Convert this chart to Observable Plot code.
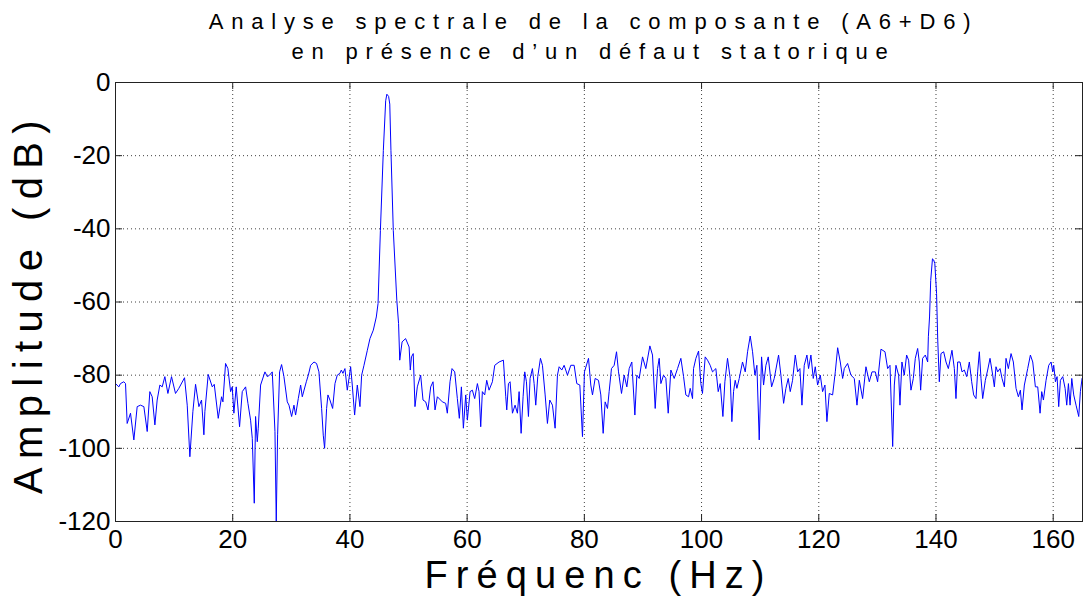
<!DOCTYPE html>
<html><head><meta charset="utf-8">
<script src="https://cdn.jsdelivr.net/npm/d3@7"></script>
<script src="https://cdn.jsdelivr.net/npm/@observablehq/plot@0.6"></script>
<style>
body{margin:0;background:#fff;}
#wrap{position:relative;width:1085px;height:596px;overflow:hidden;font-family:"Liberation Sans",Arial,Helvetica,sans-serif;color:#000;}
#chart{position:absolute;left:0;top:0;}
.title{position:absolute;left:110px;width:967px;top:7px;text-align:center;font-size:22px;line-height:30px;letter-spacing:7.8px;white-space:nowrap;}
.xlab{position:absolute;left:115px;width:967px;top:556px;text-align:center;font-size:38px;line-height:38px;letter-spacing:8.1px;white-space:nowrap;}
.ylab{position:absolute;left:28px;top:303px;transform:translate(-50%,-50%) rotate(-90deg);font-size:40px;line-height:40px;letter-spacing:8.4px;white-space:nowrap;}
</style>
</head><body>
<div id="wrap">
  <div id="chart"></div>
  <div class="title">Analyse spectrale de la composante (A6+D6)<br>en présence d’un défaut statorique</div>
  <div class="ylab">Amplitude (dB)</div>
  <div class="xlab">Fréquenc (Hz)</div>
</div>
<script>
const titleLines = ["Analyse spectrale de la composante (A6+D6)", "en présence d’un défaut statorique"];
const xLabel = "Fréquenc (Hz)";
const yLabel = "Amplitude (dB)";
const xTicks = [0, 20, 40, 60, 80, 100, 120, 140, 160];
const yTicks = [-120, -100, -80, -60, -40, -20, 0];

const freqs = [
0,0.57,0.85,1.42,1.71,1.99,2.56,3.13,3.70,4.27,4.84,5.41,5.86,6.26,6.72,7.11,7.57,7.97,8.42,8.94,
9.56,10.24,10.81,11.78,12.24,12.69,13.20,13.66,14.23,14.68,15.08,15.25,15.82,16.51,16.85,17.53,18.10,18.33,18.78,19.18,
19.64,19.92,20.20,20.60,21.17,21.63,22.20,22.60,23.05,23.34,23.68,23.90,24.19,24.36,24.76,25.50,25.90,26.29,26.75,27.21,
27.43,27.66,28.00,28.34,28.74,29.31,29.60,30.05,30.45,30.73,31.19,31.59,31.87,32.56,32.90,33.30,33.86,34.31,34.71,35.17,
35.45,35.68,36.02,36.25,36.59,37.05,37.45,37.84,38.30,38.53,38.81,39.15,39.55,39.84,40.12,40.40,40.80,41.26,41.71,42.00,
42.40,42.97,43.42,43.99,44.5,44.8,45.2,45.7,46.1,46.3,46.6,46.8,47.0,47.4,48.0,48.3,48.5,48.9,49.5,50.1,
50.3,50.5,50.8,51.1,51.50,52.07,52.47,52.93,53.32,53.78,54.18,54.52,54.92,55.77,56.34,56.62,57.08,57.42,57.88,58.33,
58.67,59.02,59.36,59.76,60.04,60.50,60.89,61.29,61.75,62.03,62.32,62.60,63.00,63.34,63.74,64.31,64.71,65.45,66.19,66.59,
66.76,67.05,67.33,67.73,68.18,68.58,68.87,69.21,69.55,69.83,70.12,70.46,70.74,71.14,71.43,71.71,72.05,72.51,72.85,73.31,
73.70,74.10,74.56,75.01,75.41,75.70,76.15,76.55,77.12,77.69,78.26,78.71,79.23,79.68,80.02,80.71,81.10,81.39,81.84,82.41,
82.81,83.21,83.55,83.95,84.23,84.63,85.09,85.49,85.83,86.34,86.80,87.25,87.65,88.10,88.62,88.96,89.36,89.93,90.49,91.18,
91.63,92.09,92.49,92.77,93.06,93.51,93.91,94.31,94.76,95.33,95.90,96.47,96.93,97.32,97.78,98.06,98.46,98.63,99.03,99.49,
99.88,100.16,100.62,101.02,101.47,101.87,102.44,102.84,103.18,103.64,103.98,104.43,104.89,105.17,105.46,105.74,106.03,106.43,106.99,107.45,
107.85,108.30,108.70,109.10,109.44,109.84,110.24,110.58,110.98,111.38,111.95,112.40,113.14,113.54,114.00,114.39,114.79,115.13,115.53,115.99,
116.39,116.78,117.13,117.52,117.98,118.26,118.66,119.06,119.40,119.80,120.26,120.65,121.05,121.39,121.79,122.36,122.82,123.22,123.67,124.07,
124.35,124.92,125.49,126.06,126.52,126.92,127.48,128.05,128.62,129.08,129.65,130.04,130.61,131.30,131.75,132.15,132.61,132.89,133.17,133.63,
133.85,134.19,134.59,134.99,135.33,135.73,136.13,136.47,136.87,137.15,137.38,137.72,138.18,138.58,138.7,138.9,139.1,139.4,139.6,139.8,
140.1,140.3,140.57,140.85,141.31,141.71,142.11,142.73,143.13,143.41,143.70,144.10,144.44,144.84,145.24,145.69,146.09,146.43,146.83,147.11,
147.40,147.68,147.97,148.42,148.82,149.22,149.68,149.96,150.24,150.53,150.93,151.27,151.67,151.95,152.35,152.81,153.20,153.66,154.06,154.40,
154.68,155.08,155.65,156.11,156.51,156.96,157.36,157.76,158.04,158.33,158.78,159.24,159.64,159.92,160.09,160.38,160.66,160.94,161.23,161.63,
162.03,162.31,162.60,162.88,163.17,163.50,163.90,164.36,164.64,164.93
];
const amps = [
-82.3,-83.2,-82.3,-81.8,-82.3,-93.2,-90.4,-97.7,-88.6,-88.2,-88.6,-95.4,-84.5,-85.9,-93.6,-86.8,-82.7,-83.2,-80.4,-85.0,
-80.4,-85.0,-83.6,-80.7,-88.2,-102.3,-90.0,-82.5,-88.6,-86.8,-96.3,-90.0,-79.8,-83.2,-82.5,-91.8,-85.9,-87.3,-76.8,-78.2,
-84.5,-83.2,-90.4,-83.2,-94.1,-84.5,-83.2,-87.7,-92.3,-97.3,-115.0,-91.3,-98.2,-94.5,-82.7,-79.1,-80.4,-80.0,-79.1,-95.4,
-120,-96.3,-79.1,-77.1,-80.4,-87.3,-88.2,-91.3,-88.2,-90.9,-86.4,-82.7,-85.9,-81.8,-80.0,-77.3,-76.4,-76.8,-79.1,-89.1,
-96.4,-100.0,-89.1,-85.4,-86.8,-89.1,-82.3,-80.0,-79.5,-78.6,-79.5,-78.2,-84.1,-80.9,-77.7,-82.7,-90.9,-82.7,-88.6,-80.0,
-77.3,-73.2,-70.0,-67.7,-64.1,-60.4,-40.4,-18.6,-5.0,-3.2,-3.8,-5.9,-18.6,-40.4,-59.5,-65.9,-75.9,-70.9,-70.0,-72.3,
-78.6,-75.0,-74.1,-88.6,-83.2,-80.0,-86.8,-87.3,-89.5,-83.2,-81.8,-89.5,-85.9,-87.3,-87.7,-90.4,-81.8,-78.2,-79.1,-86.4,
-91.8,-83.2,-94.5,-85.4,-92.3,-84.5,-84.1,-86.4,-82.3,-84.5,-94.1,-84.5,-85.4,-81.4,-84.1,-81.8,-77.3,-76.4,-75.9,-85.9,
-89.5,-82.3,-81.8,-90.4,-88.2,-90.4,-84.5,-95.9,-85.9,-79.1,-81.8,-91.3,-80.9,-78.2,-82.3,-88.2,-80.4,-75.4,-77.3,-85.4,
-93.2,-86.8,-88.2,-94.5,-80.0,-77.7,-78.6,-77.3,-80.0,-77.3,-77.3,-82.3,-82.7,-96.8,-79.1,-75.4,-82.7,-85.4,-80.9,-81.4,
-85.4,-95.9,-87.3,-89.1,-84.5,-78.2,-77.3,-73.6,-79.1,-85.0,-80.0,-83.2,-78.2,-76.4,-90.9,-80.0,-80.9,-75.0,-78.2,-72.0,
-74.5,-89.1,-78.2,-75.4,-82.3,-80.0,-80.9,-90.4,-78.6,-80.9,-78.2,-75.4,-80.4,-85.4,-85.9,-83.6,-86.4,-78.2,-75.4,-73.4,
-82.3,-85.0,-75.0,-75.9,-77.3,-79.1,-78.2,-84.5,-82.3,-91.3,-81.8,-75.4,-80.9,-92.7,-84.5,-81.4,-83.6,-80.9,-76.4,-79.1,
-73.6,-69.3,-73.6,-80.0,-77.3,-97.7,-75.0,-82.7,-77.3,-75.0,-83.2,-80.9,-74.5,-80.0,-87.7,-83.6,-80.9,-84.5,-81.4,-74.5,
-79.1,-78.2,-88.2,-77.3,-74.5,-78.2,-74.5,-80.9,-77.7,-82.7,-80.0,-84.5,-82.7,-92.7,-85.0,-85.4,-79.1,-72.5,-76.4,-80.9,
-78.2,-76.8,-80.0,-80.9,-88.2,-81.4,-86.4,-77.7,-81.8,-79.1,-79.1,-81.8,-72.9,-73.6,-78.2,-77.3,-99.5,-82.7,-77.3,-80.0,
-88.2,-76.4,-80.0,-74.5,-75.9,-84.1,-80.9,-75.4,-72.7,-76.4,-84.1,-75.4,-74.5,-76.4,-69.5,-64.1,-54.1,-48.2,-48.5,-49.5,
-57.7,-70.4,-81.8,-74.1,-73.6,-76.4,-78.2,-73.2,-78.2,-86.4,-76.4,-76.4,-79.1,-78.6,-80.4,-76.4,-81.8,-85.4,-86.4,-79.1,
-73.6,-80.9,-86.4,-81.4,-78.6,-75.4,-80.0,-83.2,-77.7,-79.1,-78.2,-80.9,-83.2,-75.4,-78.2,-74.1,-76.4,-83.6,-85.9,-84.1,
-89.5,-82.7,-78.2,-74.5,-76.4,-83.2,-83.2,-90.4,-84.5,-86.8,-81.4,-77.3,-76.4,-79.1,-77.3,-81.8,-80.4,-88.6,-81.4,-80.4,
-83.6,-88.2,-82.3,-88.2,-80.9,-85.4,-88.2,-91.3,-84.5,-80.9
];

const data = freqs.map((f, i) => ({f, a: amps[i]}));

const W = 1085, H = 596, mL = 115, mR = 3, mT = 82, mB = 75;
const pw = W - mL - mR, ph = H - mT - mB, tk = 7;
const ink = "#222";

const chart = Plot.plot({
  width: W, height: H,
  marginLeft: mL, marginRight: mR, marginTop: mT, marginBottom: mB,
  style: {fontFamily: "'Liberation Sans', Arial, Helvetica, sans-serif", background: "#fff", color: "#000", overflow: "visible"},
  x: {domain: [0, 165], label: null},
  y: {domain: [-120, 0], label: null},
  marks: [
    Plot.gridX(xTicks, {stroke: "#000", strokeOpacity: 0.75, strokeDasharray: "1,3"}),
    Plot.gridY(yTicks, {stroke: "#000", strokeOpacity: 0.75, strokeDasharray: "1,3"}),
    Plot.line(data, {x: "f", y: "a", stroke: "#0000ff", strokeWidth: 1}),
    Plot.ruleX(xTicks, {insetTop: ph - tk, stroke: ink}),
    Plot.ruleX(xTicks, {insetBottom: ph - tk, stroke: ink}),
    Plot.ruleY(yTicks, {insetRight: pw - tk, stroke: ink}),
    Plot.ruleY(yTicks, {insetLeft: pw - tk, stroke: ink}),
    Plot.frame({stroke: ink}),
    Plot.axisX(xTicks, {tickSize: 0, tickPadding: 8, fontSize: 26, tickFormat: d => String(d), label: null}),
    Plot.axisY(yTicks, {tickSize: 0, tickPadding: 5, fontSize: 26, tickFormat: d => String(d), label: null})
  ]
});
document.getElementById("chart").appendChild(chart);
</script>
</body></html>
